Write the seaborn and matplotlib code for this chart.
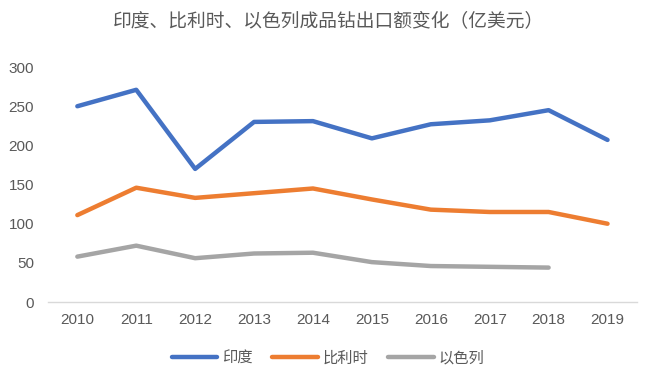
import matplotlib
matplotlib.use("Agg")
import matplotlib.pyplot as plt
import numpy as np
import pandas as pd
import seaborn as sns

years = [2010, 2011, 2012, 2013, 2014, 2015, 2016, 2017, 2018, 2019]
india = [250, 271, 170, 230, 231, 209, 227, 232, 245, 207]
belgium = [111, 146, 133, 139, 145, 131, 118, 115, 115, 100]
israel = [58, 72, 56, 62, 63, 51, 46, 45, 44, np.nan]
series_names = ["印度", "比利时", "以色列"]
colors = ["#4472C4", "#ED7D31", "#A5A5A5"]
title = "印度、比利时、以色列成品钻出口额变化（亿美元）"

df = pd.DataFrame({"year": years, "印度": india, "比利时": belgium, "以色列": israel})
long_df = df.melt(id_vars="year", var_name="country", value_name="value")

sns.set_style("white")
plt.rcParams["font.family"] = ["Noto Sans CJK SC", "DejaVu Sans"]

fig = plt.figure(figsize=(6.56, 3.79), dpi=100)
ax = fig.add_axes([0.073, 0.203, 0.898, 0.620])

sns.lineplot(data=long_df, x="year", y="value", hue="country",
             hue_order=series_names, palette=colors, linewidth=3.2,
             ax=ax, legend=False)

ax.set_xlim(2009.5, 2019.5)
ax.set_ylim(0, 300)
ax.set_xticks(years)
ax.set_xticklabels([str(y) for y in years])
ax.set_yticks([0, 50, 100, 150, 200, 250, 300])
ax.set_xlabel("")
ax.set_ylabel("")
ax.tick_params(length=0, labelsize=11, colors="#595959")
ax.tick_params(axis="x", pad=8)
ax.tick_params(axis="y", pad=10)
for lbl in ax.get_xticklabels() + ax.get_yticklabels():
    lbl.set_family("Liberation Sans")
for s in ["top", "right", "left"]:
    ax.spines[s].set_visible(False)
ax.spines["bottom"].set_color("#D9D9D9")
ax.spines["bottom"].set_linewidth(1)

fig.text(0.5, 0.945, title, ha="center", va="center", fontsize=13.5, color="#595959")

handles = [plt.Line2D([0], [0], color=c, lw=3.2, solid_capstyle="round") for c in colors]
fig.legend(handles, series_names, loc="center", bbox_to_anchor=(0.5, 0.056), ncol=3,
           frameon=False, fontsize=11, labelcolor="#595959", handlelength=3.0,
           columnspacing=1.3, handletextpad=0.3)

fig.savefig("out.png", dpi=100)
